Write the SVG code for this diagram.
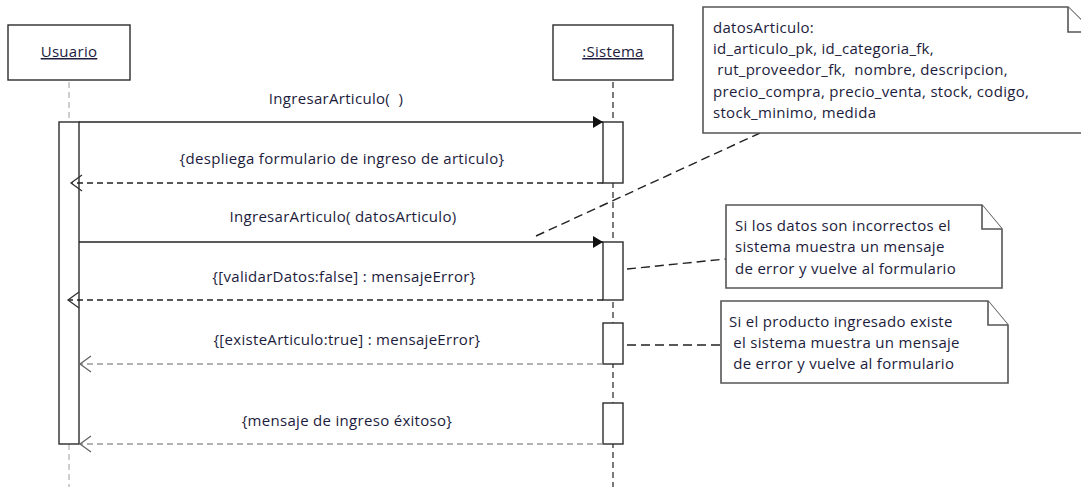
<svg xmlns="http://www.w3.org/2000/svg" width="1081" height="487" viewBox="0 0 1081 487">
<style>
text{font-family:"Open Sans","Liberation Sans",Arial,sans-serif;font-size:15px;letter-spacing:0.3px;fill:#1c1c3c}
.box{fill:#fff;stroke:#2b2b2b;stroke-width:1.4}
.note{fill:#fff;stroke:#555;stroke-width:1.6}
.life{stroke:#222;stroke-width:1.2;stroke-dasharray:6,4;fill:none}
.lifeg{stroke:#bbb;stroke-width:1.4;stroke-dasharray:6,4;fill:none}
.msg{stroke:#222;stroke-width:1.3;fill:none}
.ret{stroke:#222;stroke-width:1.3;stroke-dasharray:6,4;fill:none}
.retg{stroke:#999;stroke-width:1.3;stroke-dasharray:6,4;fill:none}
.anchor{stroke:#222;stroke-width:1.4;stroke-dasharray:9,5;fill:none}
.c{text-anchor:middle}
</style>
<defs>
<marker id="fill" markerWidth="12" markerHeight="12" refX="10" refY="6" orient="auto" markerUnits="userSpaceOnUse">
<path d="M0,0 L10,6 L0,12 Z" fill="#111"/>
</marker>
<marker id="open" markerWidth="14" markerHeight="18" refX="12" refY="9" orient="auto" markerUnits="userSpaceOnUse">
<path d="M1,1 L12,9 L1,17" fill="none" stroke="#333" stroke-width="1.3"/>
</marker>
<marker id="openg" markerWidth="14" markerHeight="18" refX="12" refY="9" orient="auto" markerUnits="userSpaceOnUse">
<path d="M1,1 L12,9 L1,17" fill="none" stroke="#666" stroke-width="1.3"/>
</marker>
</defs>

<g id="lifelines">
<line class="lifeg" x1="69" y1="82" x2="69" y2="122"/>
<line class="lifeg" x1="69" y1="444" x2="69" y2="487"/>
<line class="life" x1="613" y1="82" x2="613" y2="487"/>
</g>

<g id="usuario">
<rect class="box" x="8" y="25" width="122" height="55"/>
<text class="c" x="69" y="57" text-decoration="underline">Usuario</text>
</g>
<g id="sistema">
<rect class="box" x="553" y="25" width="120" height="55"/>
<text class="c" x="613" y="57" text-decoration="underline">:Sistema</text>
</g>

<g id="activations">
<rect class="box" x="59" y="122" width="20" height="322"/>
<rect class="box" x="603" y="122" width="20" height="61"/>
<rect class="box" x="603" y="242" width="20" height="58"/>
<rect class="box" x="603" y="323" width="20" height="41"/>
<rect class="box" x="603" y="403" width="20" height="41"/>
</g>

<g id="connectors">
<line class="msg" x1="79" y1="122" x2="603" y2="122" marker-end="url(#fill)"/>
<line class="ret" x1="603" y1="183" x2="71" y2="183" marker-end="url(#open)"/>
<line class="msg" x1="79" y1="242" x2="603" y2="242" marker-end="url(#fill)"/>
<line class="ret" x1="603" y1="300" x2="68" y2="300" marker-end="url(#open)"/>
<line class="retg" x1="603" y1="364" x2="80" y2="364" marker-end="url(#openg)"/>
<line class="retg" x1="603" y1="444" x2="80" y2="444" marker-end="url(#openg)"/>
<line class="anchor" x1="536" y1="236" x2="760" y2="133"/>
<line class="anchor" x1="627" y1="269" x2="726" y2="259"/>
<line class="anchor" x1="627" y1="345" x2="721" y2="345"/>
</g>

<g id="labels">
<text class="c" x="336" y="104" xml:space="preserve">IngresarArticulo(  )</text>
<text class="c" x="342" y="164">{despliega formulario de ingreso de articulo}</text>
<text class="c" x="343" y="222">IngresarArticulo( datosArticulo)</text>
<text class="c" x="344" y="282">{[validarDatos:false] : mensajeError}</text>
<text class="c" x="347" y="345">{[existeArticulo:true] : mensajeError}</text>
<text class="c" x="347" y="426">{mensaje de ingreso éxitoso}</text>
</g>

<g id="note-datos">
<path class="note" d="M703,7 H1068 L1093,32 V133 H703 Z"/>
<path class="note" d="M1068,7 V32 H1093"/>
<text x="713" y="33">datosArticulo:</text>
<text x="713" y="54">id_articulo_pk, id_categoria_fk,</text>
<text x="713" y="75" xml:space="preserve"> rut_proveedor_fk,  nombre, descripcion,</text>
<text x="713" y="97">precio_compra, precio_venta, stock, codigo,</text>
<text x="713" y="118">stock_minimo, medida</text>
</g>

<g id="note-validar">
<path class="note" d="M726,205 H982 L1002,229 V288 H726 Z"/>
<path class="note" d="M982,205 V229 H1002"/>
<text x="735" y="231">Si los datos son incorrectos el</text>
<text x="735" y="252">sistema muestra un mensaje</text>
<text x="735" y="274">de error y vuelve al formulario</text>
</g>

<g id="note-existe">
<path class="note" d="M721,301 H988 L1008,325 V383 H721 Z"/>
<path class="note" d="M988,301 V325 H1008"/>
<text x="729" y="327">Si el producto ingresado existe</text>
<text x="729" y="348" xml:space="preserve"> el sistema muestra un mensaje</text>
<text x="729" y="369" xml:space="preserve"> de error y vuelve al formulario</text>
</g>
</svg>
